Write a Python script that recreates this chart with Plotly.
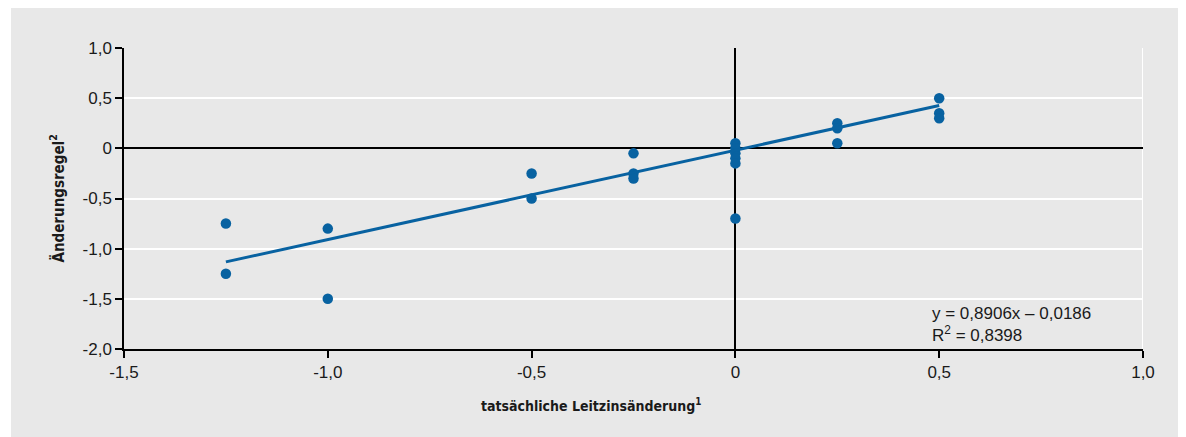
import plotly.graph_objects as go

# data
x_vals = [-1.25, -1.25, -1.0, -1.0, -0.5, -0.5, -0.25, -0.25, -0.25,
          0.0, 0.0, 0.0, 0.0, 0.0, 0.0, 0.25, 0.25, 0.25, 0.5, 0.5, 0.5]
y_vals = [-0.75, -1.25, -0.8, -1.5, -0.25, -0.5, -0.05, -0.25, -0.3,
          0.05, 0.0, -0.05, -0.1, -0.15, -0.7, 0.25, 0.2, 0.05, 0.5, 0.35, 0.3]
slope = 0.8906
intercept = -0.0186
r2 = 0.8398
fit_x = [min(x_vals), max(x_vals)]
fit_y = [slope * v + intercept for v in fit_x]

x_ticks = [-1.5, -1.0, -0.5, 0, 0.5, 1.0]
x_ticktext = ["-1,5", "-1,0", "-0,5", "0", "0,5", "1,0"]
y_ticks = [1.0, 0.5, 0, -0.5, -1.0, -1.5, -2.0]
y_ticktext = ["1,0", "0,5", "0", "-0,5", "-1,0", "-1,5", "-2,0"]

BLUE = "#0862a1"
GREY = "#e8e8e8"
FONT = "Liberation Sans, Arial, sans-serif"
NARROW = "Liberation Sans Narrow, DejaVu Sans Condensed, sans-serif"

L, R, T, B = 116, 51, 40, 96
PW, PH = 1186 - L - R, 437 - T - B

fig = go.Figure()
fig.add_trace(go.Scatter(x=x_vals, y=y_vals, mode="markers",
                         marker=dict(color=BLUE, size=10.5, line=dict(width=0)),
                         showlegend=False, hoverinfo="x+y"))
fig.add_trace(go.Scatter(x=fit_x, y=fit_y, mode="lines",
                         line=dict(color=BLUE, width=3),
                         showlegend=False, hoverinfo="skip"))

fig.update_layout(
    width=1186, height=437,
    margin=dict(l=L, r=R, t=T, b=B),
    paper_bgcolor=GREY, plot_bgcolor=GREY,
    font=dict(family=FONT, size=17, color="#1a1a1a"),
    xaxis=dict(range=[-1.5, 1.0], tickvals=x_ticks, ticktext=x_ticktext,
               showgrid=False, zeroline=True, zerolinecolor="black", zerolinewidth=1.5,
               showline=True, linecolor="black", linewidth=1.5,
               ticks="outside", ticklen=7, tickcolor="black", tickwidth=1.5,
               tickfont=dict(size=17), fixedrange=True),
    yaxis=dict(range=[-2.0, 1.0], tickvals=y_ticks, ticktext=y_ticktext,
               showgrid=True, gridcolor="white", gridwidth=2,
               zeroline=True, zerolinecolor="black", zerolinewidth=1.5,
               showline=True, linecolor="black", linewidth=1.5,
               ticks="outside", ticklen=7, tickcolor="black", tickwidth=1.5,
               tickfont=dict(size=17), fixedrange=True),
    shapes=[
        # white strip at left outside grey panel
        dict(type="rect", xref="paper", yref="paper",
             x0=-0.2, x1=(3 - L) / PW, y0=-0.4, y1=1.3,
             fillcolor="white", line=dict(width=0), layer="above"),
        # right edge white line
        dict(type="line", xref="x", yref="y", x0=1.0, x1=1.0, y0=-2.0, y1=1.0,
             line=dict(color="white", width=2), layer="below"),
    ],
    annotations=[
        dict(text="<b>tatsächliche Leitzinsänderung<sup>1</sup></b>",
             xref="paper", yref="paper", x=(583 - L) / PW, y=(437 - B - 397) / PH,
             xanchor="center", yanchor="middle", showarrow=False,
             font=dict(family=NARROW, size=14, color="#1a1a1a")),
        dict(text="<b>Änderungsregel<sup>2</sup></b>", textangle=-90,
             xref="paper", yref="paper", x=(49 - L) / PW, y=0.5,
             xanchor="center", yanchor="middle", showarrow=False,
             font=dict(family=NARROW, size=15, color="#1a1a1a")),
        dict(text=f"y = {slope:.4f}x – {abs(intercept):.4f}".replace(".", ",")
                  + f"<br>R<sup>2</sup> = {r2:.4f}".replace(".", ","),
             xref="x", yref="y", x=0.4767, y=-1.755, xanchor="left", yanchor="middle",
             align="left", showarrow=False,
             font=dict(family=FONT, size=17, color="#1a1a1a")),
    ],
)

fig.write_html("out.html")
